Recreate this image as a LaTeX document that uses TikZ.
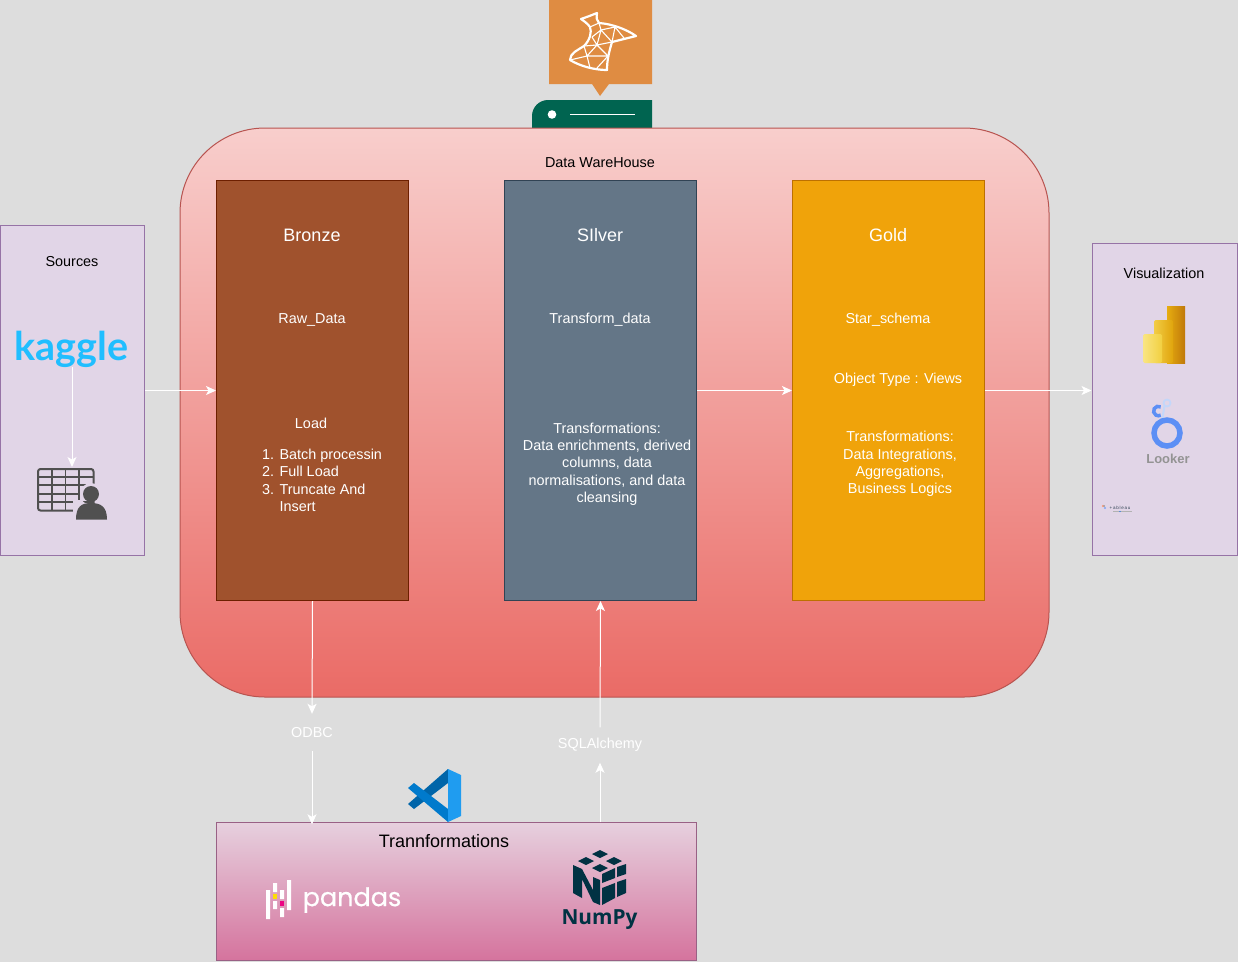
\documentclass[tikz,border=0pt]{standalone}
\usepackage{fontspec}
\setmainfont{Liberation Sans}
\newfontfamily\logofont{Lato}
\newfontfamily\pandafont[FakeBold=0.5]{Poppins}
\newfontfamily\numpyfont{Open Sans}
\usepackage{tikz}
\usetikzlibrary{arrows.meta}
\definecolor{grisFondo}{HTML}{DDDDDD}
\definecolor{rojoClaro}{HTML}{F8CECC}
\definecolor{rojoFuerte}{HTML}{EA6B66}
\definecolor{rojoBorde}{HTML}{B85450}
\definecolor{lilaCaja}{HTML}{E1D5E7}
\definecolor{lilaBorde}{HTML}{9673A6}
\definecolor{bronzeFill}{HTML}{A0522D}
\definecolor{bronzeBorde}{HTML}{6D1F00}
\definecolor{silverFill}{HTML}{647687}
\definecolor{silverBorde}{HTML}{314354}
\definecolor{goldFill}{HTML}{F0A30A}
\definecolor{goldBorde}{HTML}{BD7000}
\definecolor{rosaClaro}{HTML}{E6D0DE}
\definecolor{rosaFuerte}{HTML}{D5739D}
\definecolor{rosaBorde}{HTML}{996185}
\definecolor{naranjaSql}{HTML}{DF8C42}
\definecolor{verdeServer}{HTML}{006450}
\definecolor{azulKaggle}{HTML}{20BEFF}
\definecolor{grisIcono}{HTML}{505050}
\definecolor{azulNumpy}{HTML}{013243}
\definecolor{azulLooker}{HTML}{5C8FF5}
\definecolor{azulLookerClaro}{HTML}{C3D7FA}
\definecolor{vsOscuro}{HTML}{0065A9}
\definecolor{vsMedio}{HTML}{007ACC}
\definecolor{vsClaro}{HTML}{1F9CF0}
\definecolor{biAtras}{HTML}{E6AD10}
\definecolor{biAtrasOsc}{HTML}{C0780A}
\definecolor{biMedio}{HTML}{F2CC45}
\definecolor{biMedioOsc}{HTML}{E0A50C}
\definecolor{biFrente}{HTML}{F9E583}
\definecolor{biFrenteOsc}{HTML}{F2D040}
\tikzset{
    capa/.style={draw,line width=1pt,minimum width=192pt,minimum height=420pt,inner sep=0pt},
    lateral/.style={draw=lilaBorde,fill=lilaCaja,line width=1pt,inner sep=0pt},
    blanco/.style={text=white,align=center,inner sep=0pt,font=\fontsize{14.4}{17.3}\selectfont},
    negro/.style={text=black,align=center,inner sep=0pt,font=\fontsize{14.4}{17}\selectfont},
    titulo/.style={text=white,inner sep=0pt,font=\fontsize{18}{21}\selectfont},
    flecha/.style={draw=white,line width=1pt,-{Stealth[length=10pt,width=9pt,inset=2.5pt]}}
}
\begin{document}
\begin{tikzpicture}[x=1pt,y=-1pt]
    \useasboundingbox (0,0) rectangle (1238,962);
    \fill[grisFondo] (0,0) rectangle (1238,962);

    \fill[naranjaSql] (549,0) -- (652,0) -- (652,84) -- (609,84) -- (600,96) -- (592,84) -- (549,84) -- cycle;
    \draw[white,line width=2.2pt,line join=round] (581,19) .. controls (587,17) and (592,15) .. (597,13) .. controls (596,18) and (597,21) .. (599,23) .. controls (612,24) and (626,29) .. (636,36) .. controls (628,38) and (620,40) .. (612,42) .. controls (609,52) and (607,60) .. (607,70) .. controls (594,70) and (580,66) .. (570,60) .. controls (570,53) and (578,50) .. (584,46) .. controls (590,40) and (592,32) .. (590,27) .. controls (588,24) and (584,21) .. (581,19) -- cycle;
    \draw[white,line width=1.1pt] (590,27) -- (599,23) (592,37) -- (601,30) -- (599,23) (601,30) -- (615,27) -- (612,42) -- (601,30) (615,27) -- (624,38) (592,37) -- (597,45) -- (601,30) (597,45) -- (612,42) (584,46) -- (597,45) -- (587,56) -- (570,60) (584,46) -- (587,56) -- (590,68) (597,45) -- (608,56) -- (587,56) (608,56) -- (597,68);
    \fill[verdeServer] (532,128) [rounded corners=16pt] -- (532,100) [sharp corners] -- (652,100) -- (652,128) -- cycle;
    \fill[white] (552,114.5) circle (4.3);
    \draw[white,line width=1.5pt] (570,114.5) -- (635,114.5);

    \node[draw=rojoBorde,line width=1pt,top color=rojoClaro,bottom color=rojoFuerte,rounded corners=85pt,minimum width=869pt,minimum height=569pt,inner sep=0pt] (almacen) at (614.5,412.5) {};
    \node[negro] (almacenTexto) at (600,163) {Data WareHouse};

    \node[capa,draw=bronzeBorde,fill=bronzeFill] (bronze) at (312.5,390.5) {};
    \node[capa,draw=silverBorde,fill=silverFill] (silver) at (600.5,390.5) {};
    \node[capa,draw=goldBorde,fill=goldFill] (gold) at (888.5,390.5) {};

    \node[titulo] (bronzeTitulo) at (312,235) {Bronze};
    \node[blanco] (bronzeRaw) at (312,320) {Raw\_Data};
    \node[blanco] (bronzeLoad) at (311,423) {Load};
    \node[blanco,align=left,anchor=north west] (bronzeLista) at (262,449)
      {1. Batch processin\\2. Full Load\\3. Truncate And\\\phantom{3. }Insert};

    \node[titulo] (silverTitulo) at (600,235) {SIlver};
    \node[blanco] (silverData) at (600,320) {Transform\_data};
    \node[blanco] (silverTexto) at (607,464)
      {Transformations:\\Data enrichments, derived\\columns, data\\normalisations, and data\\cleansing};

    \node[titulo] (goldTitulo) at (888,235) {Gold};
    \node[blanco] (goldStar) at (888,320) {Star\_schema};
    \node[blanco] (goldObject) at (898,380) {Object Type : Views};
    \node[blanco] (goldTexto) at (900,464)
      {Transformations:\\Data Integrations,\\Aggregations,\\Business Logics};

    \node[lateral,minimum width=144pt,minimum height=330pt] (sources) at (72.5,390.5) {};
    \node[negro] (sourcesTexto) at (72,262) {Sources};
    \node[text=azulKaggle,inner sep=0pt,font=\logofont\bfseries\fontsize{39.5}{40}\selectfont] (kaggle) at (71.5,349) {kaggle};
    \coordinate (tablaIcono) at (72,467);
    \draw[grisIcono,line width=2pt,rounded corners=2.5pt] (38,469) rectangle (93.5,510.5);
    \draw[grisIcono,line width=1.6pt] (38,477) -- (93.5,477) (38,485) -- (93.5,485) (38,494) -- (93.5,494) (38,502) -- (93.5,502) (52,469) -- (52,510.5) (65.5,469) -- (65.5,510.5) (79,469) -- (79,510.5);
    \fill[lilaCaja] (91,494) circle (11) (73,500) rectangle (110,521);
    \fill[grisIcono] (91,494) circle (8);
    \fill[grisIcono] (76,519.5) .. controls (76,506) and (82,503) .. (91,503) .. controls (100,503) and (107,506) .. (107,519.5) -- cycle;

    \node[lateral,minimum width=145pt,minimum height=312pt] (visual) at (1164.5,399.5) {};
    \node[negro] (visualTexto) at (1164,273.5) {Visualization};
    \shade[left color=biAtras,right color=biAtrasOsc] (1167,306) rectangle (1185,363);
    \shade[rounded corners=1.5pt,left color=biMedio,right color=biMedioOsc] (1154,320) rectangle (1173,363);
    \shade[rounded corners=1.5pt,left color=biFrente,right color=biFrenteOsc] (1143,334) rectangle (1162,363);
    \draw[azulLookerClaro,line width=1.8pt] (1167,403) circle (3.5);
    \draw[azulLooker,line width=3.5pt] (1160.7,406.9) arc (-60:-300:4.75);
    \draw[azulLookerClaro,line width=2pt] (1161.7,422) -- (1164.5,406);
    \draw[azulLooker,line width=5.5pt] (1167,433) circle (13);
    \node[text=gray!85,inner sep=0pt,font=\bfseries\fontsize{13}{15}\selectfont] (looker) at (1168,458.5) {Looker};
    \fill[red!45!orange!60] (1103,506) circle (1.2);
    \fill[azulLooker!80] (1105,508) circle (1.2);
    \fill[gray!80] (1104,506) circle (1);
    \node[text=silverBorde,inner sep=0pt,font=\fontsize{4.5}{5}\selectfont] (tableau) at (1120,507.5) {+\,a\,b\,l\,e\,a\,u};
    \draw[gray!60,line width=.4pt] (1113,511.5) -- (1132,511.5);
    \fill[blue!60!cyan] (1120,511.5) circle (.7);

    \node[draw=rosaBorde,line width=1pt,top color=rosaClaro,bottom color=rosaFuerte,minimum width=480pt,minimum height=138pt,inner sep=0pt] (transform) at (456.5,891.8) {};
    \node[text=black,inner sep=0pt,font=\fontsize{18}{21}\selectfont] (transformTexto) at (444,841) {Trannformations};

    \fill[vsOscuro] (448,769) -- (448,783) -- (414,809) -- (408,804) -- cycle;
    \fill[vsMedio] (448,822) -- (448,809) -- (414,783) -- (408,788) -- cycle;
    \fill[vsClaro] (448,769) -- (461,775) -- (461,816) -- (448,822) -- cycle;

    \fill[white] (266,890) rectangle (270,919) (273,883) rectangle (277,892) (273,901) rectangle (277,909) (280,890) rectangle (284,899) (280,908) rectangle (284,917) (287,880) rectangle (291,910);
    \fill[yellow!80!orange] (273,894) rectangle (277,899);
    \fill[magenta!90!red] (280,901) rectangle (284,906);
    \node[text=white,inner sep=0pt,font=\pandafont\fontsize{25.5}{28}\selectfont] (pandas) at (352,900) {pandas};

    \fill[azulNumpy] (600,850) -- (608,854) -- (600,858) -- (592,854) -- cycle (586,857) -- (594,861) -- (586,865) -- (578,861) -- cycle (614,857) -- (622,861) -- (614,865) -- (606,861) -- cycle (600,864) -- (608,868) -- (600,872) -- (592,868) -- cycle;
    \fill[azulNumpy] (573,865) -- (582,869) -- (593,890) -- (593,877) -- (600,880) -- (600,905) -- (593,902) -- (582,879) -- (582,898) -- (573,893) -- cycle;
    \fill[azulNumpy] (602,874) -- (615,868) -- (615,878) -- (602,883) -- cycle (617,867) -- (626,864) -- (626,874) -- (617,877) -- cycle (602,888) -- (615,883) -- (615,898) -- (602,905) -- cycle (617,882) -- (626,879) -- (626,893) -- (617,897) -- cycle;
    \node[text=azulNumpy,inner sep=0pt,font=\numpyfont\bfseries\fontsize{20.8}{25}\selectfont] (numpy) at (599.5,920) {NumPy};

    \node[blanco,minimum height=37pt] (odbc) at (312,732.5) {ODBC};
    \node[blanco,minimum height=35pt] (sqlalchemy) at (600,745) {SQLAlchemy};

    \draw[flecha] (kaggle.south -| tablaIcono) -- (tablaIcono);
    \draw[flecha] (sources.east) -- (bronze.west);
    \draw[flecha] (silver.east) -- (gold.west);
    \draw[flecha] (gold.east) -- (gold.east -| visual.west);
    \draw[flecha] (bronze.south) -- (odbc.north);
    \draw[flecha,shorten >=-2pt] (odbc.south) -- (odbc.south |- transform.north);
    \draw[flecha] (sqlalchemy.south |- transform.north) -- (sqlalchemy.south);
    \draw[flecha] (sqlalchemy.north) -- (silver.south);
\end{tikzpicture}
\end{document}
